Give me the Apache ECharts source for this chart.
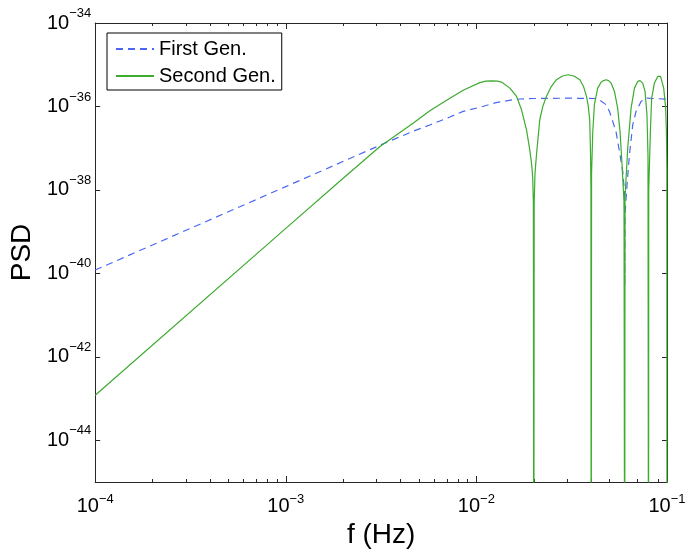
<!DOCTYPE html>
<html lang="en">
<head>
    <meta charset="UTF-8">
    <title>PSD</title>
    <style>
        *{ margin: 0; padding: 0;}
        body{ background: #fff;}
        #chart{ width: 692px; height: 554px;}
    </style>
    <script src="https://cdn.jsdelivr.net/npm/echarts@6/dist/echarts.min.js"></script>
</head>
<body>
    <div id="chart"></div>
    <script>
        // 刻度
        var xMajorTicks = [1e-4, 1e-3, 1e-2, 1e-1];
        var xMinorTicks = [2e-4, 3e-4, 4e-4, 5e-4, 6e-4, 7e-4, 8e-4, 9e-4,
                           2e-3, 3e-3, 4e-3, 5e-3, 6e-3, 7e-3, 8e-3, 9e-3,
                           2e-2, 3e-2, 4e-2, 5e-2, 6e-2, 7e-2, 8e-2, 9e-2];
        // y 轴刻度 (10 的指数)
        var yTickExps = [-44, -42, -40, -38, -36, -34];

        var seriesNames = ['First Gen.', 'Second Gen.'];

        // First Gen.
        var firstFreq = [1e-4, 1e-3, 3.38e-3, 4.86e-3, 5.7e-3, 7.26e-3, 8.52e-3, 1.04e-2, 1.27e-2, 1.56e-2,
                         1.69e-2, 2e-2, 3e-2,
                         4.33e-2, 4.79e-2, 4.99e-2, 5.19e-2, 5.4e-2, 5.63e-2, 5.86e-2, 5.98e-2, 6e-2,
                         6.02e-2, 6.17e-2, 6.35e-2, 6.61e-2, 6.88e-2, 7.31e-2, 7.76e-2, 1e-1];
        var firstPsd = [1.2e-40, 1.2e-38, 1.38e-37, 2.75e-37, 3.6e-37, 5.6e-37, 7.6e-37, 9.5e-37, 1.24e-36, 1.45e-36,
                        1.51e-36, 1.55e-36, 1.58e-36,
                        1.55e-36, 1.1e-36, 7.6e-37, 4.4e-37, 2.5e-37, 8.3e-38, 2.75e-38, 9.1e-39, 5.0e-41,
                        2.5e-39, 1.32e-38, 6.9e-38, 3.6e-37, 7.6e-37, 1.32e-36, 1.58e-36, 1.5e-36];

        // Second Gen.
        var secondFreq = [1e-4, 1e-3, 2e-3, 3.12e-3, 4.67e-3, 5.7e-3, 6.98e-3, 8.52e-3, 1.042e-2, 1.12e-2,
                          1.202e-2, 1.29e-2, 1.355e-2, 1.498e-2, 1.624e-2, 1.725e-2, 1.832e-2, 1.906e-2, 1.95e-2,
                          1.974e-2, 1.99e-2, 2e-2,
                          2.01e-2, 2.03e-2, 2.07e-2, 2.15e-2, 2.23e-2, 2.33e-2, 2.47e-2, 2.63e-2, 2.83e-2,
                          3.03e-2, 3.25e-2, 3.49e-2, 3.65e-2, 3.78e-2, 3.86e-2, 3.93e-2, 3.97e-2, 3.99e-2, 4e-2,
                          4.02e-2, 4.08e-2, 4.16e-2, 4.33e-2, 4.51e-2, 4.65e-2, 4.79e-2, 4.94e-2, 5.09e-2,
                          5.3e-2, 5.51e-2, 5.67e-2, 5.81e-2, 5.95e-2, 6e-2,
                          6.02e-2, 6.22e-2, 6.48e-2, 6.75e-2, 7.02e-2, 7.22e-2, 7.34e-2, 7.46e-2, 7.67e-2,
                          7.85e-2, 7.95e-2, 8e-2,
                          8.02e-2, 8.18e-2, 8.31e-2, 8.59e-2, 8.94e-2, 9.12e-2, 9.25e-2, 9.38e-2, 9.61e-2,
                          9.84e-2, 9.93e-2, 9.98e-2, 1e-1];
        var secondPsd = [1.2e-43, 1.2e-39, 1.9e-38, 1.1e-37, 4.0e-37, 7.9e-37, 1.41e-36, 2.45e-36, 3.72e-36, 4.03e-36,
                         4.12e-36, 4.03e-36, 3.84e-36, 2.75e-36, 1.74e-36, 8.3e-37, 2.75e-37, 9.1e-38, 4.0e-38,
                         2.0e-38, 5.0e-39, 1e-50,
                         5.0e-39, 2.5e-38, 7.6e-38, 4.8e-37, 1.0e-36, 1.74e-36, 3.0e-36, 4.37e-36, 5.37e-36,
                         5.75e-36, 5.37e-36, 4.37e-36, 3.0e-36, 1.74e-36, 1.05e-36, 4.8e-37, 7.6e-38, 1.0e-38, 1e-50,
                         2.5e-38, 2.5e-37, 1.1e-36, 2.75e-36, 3.8e-36, 4.17e-36, 4.37e-36, 4.17e-36, 3.63e-36,
                         2.29e-36, 9.1e-37, 2.5e-37, 4.0e-38, 5.0e-39, 1e-50,
                         6.3e-39, 1.0e-37, 9.1e-37, 2.75e-36, 3.98e-36, 4.17e-36, 3.98e-36, 3.63e-36, 2.29e-36,
                         6.3e-37, 6.3e-38, 1e-50,
                         1.0e-38, 2.5e-37, 1.58e-36, 3.63e-36, 5.25e-36, 5.5e-36, 5.25e-36, 4.79e-36, 2.75e-36,
                         9.1e-37, 2.5e-37, 3.16e-38, 1e-50];

        var axisColor = '#262626';
        var font = 'Liberation Sans, Arial, sans-serif';

        function zip(xs, ys) {
            return xs.map(function (x, i) { return [x, ys[i]]; });
        }

        function powText(e) {
            return '{b|10}{e|' + (e < 0 ? '\u2212' : '') + Math.abs(e) + '}';
        }

        function xLabel(v) {
            return powText(Math.round(Math.log10(v)));
        }

        function logX(position, ticks, len, withLine, withLabel) {
            return {
                type: 'log', logBase: 10, min: 1e-4, max: 1e-1,
                position: position,
                axisLine: { show: withLine, lineStyle: { color: axisColor, width: 1 } },
                axisTick: { show: true, inside: true, length: len, customValues: ticks,
                    lineStyle: { color: axisColor, width: 1 } },
                axisLabel: withLabel ? {
                    show: true, margin: 11, customValues: ticks, formatter: xLabel,
                    rich: {
                        b: { fontSize: 20, fontFamily: font, color: '#000', lineHeight: 26 },
                        e: { fontSize: 13, fontFamily: font, color: '#000', lineHeight: 12, verticalAlign: 'top' }
                    }
                } : { show: false },
                splitLine: { show: false },
                minorTick: { show: false }
            };
        }

        // 指数刻度轴 (只画刻度和标签, 与对数轴范围一致)
        function expY(position, withLabel) {
            return {
                type: 'value', min: -45, max: -34,
                position: position,
                axisLine: { show: true, lineStyle: { color: axisColor, width: 1 } },
                axisTick: { show: true, inside: true, length: 5, customValues: yTickExps,
                    lineStyle: { color: axisColor, width: 1 } },
                axisLabel: withLabel ? {
                    show: true, margin: 4, customValues: yTickExps, formatter: powText,
                    rich: {
                        b: { fontSize: 20, fontFamily: font, color: '#000', lineHeight: 32 },
                        e: { fontSize: 13, fontFamily: font, color: '#000', lineHeight: 12, verticalAlign: 'top' }
                    }
                } : { show: false },
                splitLine: { show: false }
            };
        }

        var xBottom = logX('bottom', xMajorTicks, 6, true, true);
        xBottom.name = 'f (Hz)';
        xBottom.nameLocation = 'middle';
        xBottom.nameGap = 33;
        xBottom.nameTextStyle = { fontSize: 28, fontFamily: font, color: '#000' };

        var yLeft = expY('left', true);
        yLeft.name = 'PSD';
        yLeft.nameLocation = 'middle';
        yLeft.nameGap = 53;
        yLeft.nameTextStyle = { fontSize: 28, fontFamily: font, color: '#000' };

        var myChart = echarts.init(document.getElementById('chart'));
        myChart.setOption({
            animation: false,
            backgroundColor: '#fff',
            grid: { left: 95, right: 25, top: 23, bottom: 72 },
            legend: {
                data: seriesNames,
                orient: 'vertical',
                left: 107, top: 33,
                itemWidth: 38, itemHeight: 20, itemGap: 7,
                padding: [6, 6, 4, 8],
                borderColor: '#000', borderWidth: 1, backgroundColor: '#fff',
                itemStyle: { opacity: 0 },
                textStyle: { fontSize: 20, fontFamily: font, color: '#000' }
            },
            xAxis: [
                xBottom,
                logX('bottom', xMinorTicks, 3, false, false),
                logX('top', xMajorTicks, 6, true, false),
                logX('top', xMinorTicks, 3, false, false)
            ],
            yAxis: [
                {
                    type: 'log', logBase: 10, min: 1e-45, max: 1e-34,
                    position: 'left',
                    axisLine: { show: false },
                    axisTick: { show: false },
                    axisLabel: { show: false },
                    splitLine: { show: false }
                },
                yLeft,
                expY('right', false)
            ],
            series: [
                {
                    name: seriesNames[0],
                    type: 'line',
                    xAxisIndex: 0, yAxisIndex: 0,
                    symbol: 'none',
                    data: zip(firstFreq, firstPsd),
                    lineStyle: { color: '#4a66f2', width: 1.2, type: [7, 5] },
                    itemStyle: { color: '#4a66f2' }
                },
                {
                    name: seriesNames[1],
                    type: 'line',
                    xAxisIndex: 0, yAxisIndex: 0,
                    symbol: 'none',
                    data: zip(secondFreq, secondPsd),
                    lineStyle: { color: '#3cab2e', width: 1.2 },
                    itemStyle: { color: '#3cab2e' }
                }
            ]
        });
    </script>
</body>
</html>
